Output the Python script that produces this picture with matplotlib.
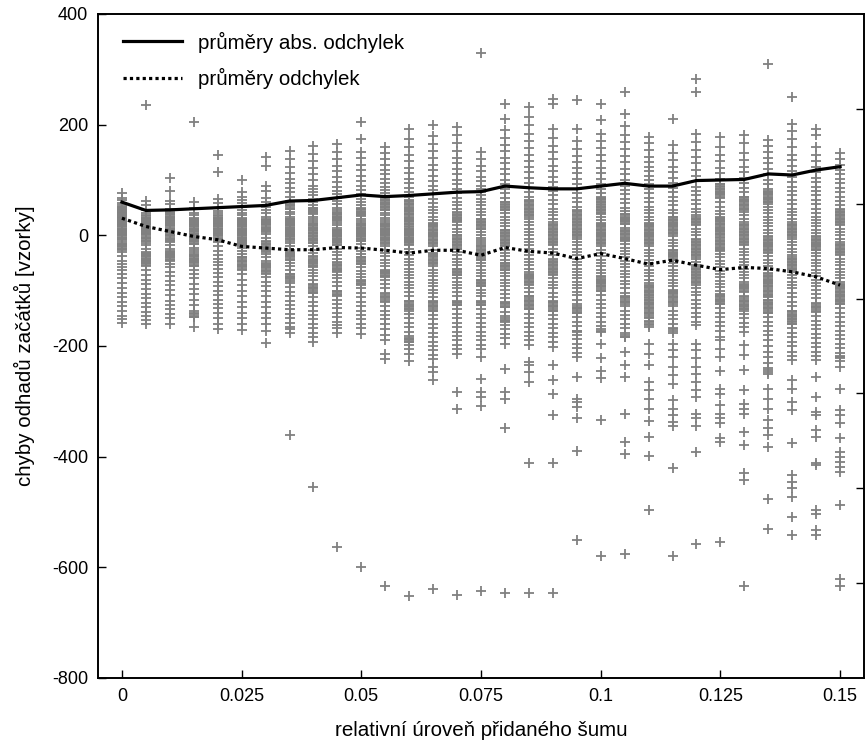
import matplotlib
matplotlib.use("Agg")
import matplotlib.pyplot as plt

plt.rcParams['font.family'] = ['Liberation Sans', 'DejaVu Sans']
plt.rcParams['axes.unicode_minus'] = False

# úrovně šumu (sloupce bodů)
noise = [0.000, 0.005, 0.010, 0.015, 0.020, 0.025, 0.030, 0.035, 0.040, 0.045,
         0.050, 0.055, 0.060, 0.065, 0.070, 0.075, 0.080, 0.085, 0.090, 0.095,
         0.100, 0.105, 0.110, 0.115, 0.120, 0.125, 0.130, 0.135, 0.140, 0.145,
         0.150]

# průměry absolutních odchylek
mean_abs = [60, 45, 46, 48, 50, 52, 54, 62, 63, 68, 73, 70, 72, 75, 78, 79,
            89, 86, 84, 84, 89, 94, 89, 89, 99, 100, 101, 111, 109, 118, 124]

# průměry odchylek
mean_dev = [31, 16, 7, -2, -8, -20, -23, -26, -26, -22, -23, -27, -32, -27,
            -27, -36, -22, -29, -32, -42, -33, -42, -52, -45, -54, -62, -58,
            -60, -66, -75, -90]

# chyby odhadů pro jednotlivé úrovně šumu (rozptýlené body)
err00 = [76, 68, 63, 58, 52, 48, 45, 42, 38, 35, 31, 27, 24, 20, 16, 12, 8, 4, 0,
         -4, -8, -12, -16, -20, -25, -31, -38, -46, -52, -58, -63, -70, -78, -86,
         -95, -104, -112, -120, -128, -137, -145, -152, -158]
err01 = [235, 62, 54, 46, 40, 36, 32, 28, 24, 20, 15, 10, 6, 2, -4, -10, -18, -24,
         -30, -34, -38, -42, -46, -50, -56, -63, -72, -80, -88, -97, -106, -114,
         -122, -130, -138, -146, -153, -160]
err02 = [103, 80, 62, 56, 48, 42, 38, 34, 30, 26, 22, 18, 12, 6, 0, -6, -12, -18,
         -24, -28, -32, -36, -40, -46, -52, -58, -66, -74, -82, -90, -98, -108,
         -118, -126, -134, -142, -150, -160]
err03 = [205, 60, 50, 40, 36, 32, 28, 24, 20, 16, 12, 8, 2, -4, -10, -16, -22, -26,
         -30, -34, -38, -42, -48, -55, -62, -70, -78, -88, -97, -106, -116, -126,
         -136, -140, -143, -147, -166]
err04 = [145, 115, 66, 58, 50, 44, 40, 36, 32, 28, 24, 20, 16, 12, 8, 4, 0, -6,
         -12, -20, -28, -36, -42, -48, -54, -60, -68, -76, -84, -92, -100, -108,
         -116, -124, -132, -140, -150, -160, -169]
err05 = [100, 78, 70, 64, 58, 52, 46, 40, 36, 32, 28, 24, 20, 16, 12, 8, 4, 0, -4,
         -8, -12, -16, -22, -28, -34, -40, -46, -54, -62, -70, -80, -90, -100,
         -110, -120, -130, -140, -150, -160, -171]
err06 = [141, 126, 90, 80, 68, 60, 52, 46, 40, 34, 28, 24, 20, 14, 8, 2, -4, -10,
         -16, -22, -28, -34, -40, -46, -52, -58, -64, -70, -76, -84, -92, -100,
         -110, -120, -130, -140, -150, -160, -172, -195]
err07 = [153, 138, 124, 112, 102, 94, 86, 78, 70, 62, 54, 48, 42, 38, 34, 30, 26,
         22, 18, 14, 10, 6, 2, -2, -6, -10, -14, -20, -26, -32, -38, -44, -50, -56,
         -62, -70, -78, -86, -94, -102, -110, -118, -126, -134, -142, -150, -158,
         -165, -170, -176, -361]
err08 = [162, 147, 134, 122, 110, 100, 90, 84, 78, 72, 66, 60, 54, 50, 46, 42, 38,
         34, 30, 26, 22, 18, 14, 10, 4, -2, -8, -14, -20, -26, -32, -38, -44, -50,
         -56, -62, -68, -74, -80, -88, -96, -104, -112, -120, -128, -136, -144,
         -152, -160, -168, -176, -184, -193, -454]
err09 = [165, 150, 138, 126, 116, 106, 96, 88, 80, 74, 68, 62, 56, 50, 46, 42, 38,
         34, 30, 26, 22, 18, 14, 10, 6, 2, -2, -6, -12, -18, -24, -30, -36, -42,
         -48, -54, -60, -66, -72, -78, -84, -92, -100, -108, -116, -124, -132,
         -140, -148, -156, -162, -168, -176, -563]
err10 = [205, 175, 150, 140, 128, 118, 108, 98, 90, 82, 74, 66, 60, 54, 48, 42, 36,
         30, 26, 22, 18, 14, 10, 6, 2, -2, -6, -10, -16, -22, -28, -34, -40, -46,
         -52, -58, -64, -70, -76, -82, -88, -96, -104, -112, -120, -128, -136,
         -144, -152, -160, -168, -178, -599]
err11 = [160, 148, 138, 128, 118, 110, 102, 94, 88, 82, 76, 70, 64, 58, 52, 46, 40,
         36, 32, 28, 24, 20, 16, 12, 8, 4, 0, -4, -8, -14, -20, -26, -32, -38, -44,
         -50, -56, -62, -68, -74, -80, -88, -96, -104, -112, -120, -128, -136,
         -144, -152, -160, -170, -180, -190, -214, -223, -634]
err12 = [193, 175, 160, 146, 134, 122, 112, 102, 94, 86, 78, 70, 62, 56, 50, 44,
         38, 32, 26, 20, 16, 12, 8, 4, 0, -4, -8, -12, -18, -24, -30, -36, -42,
         -48, -54, -60, -66, -72, -78, -84, -90, -96, -102, -110, -118, -126,
         -134, -142, -150, -158, -166, -174, -182, -188, -192, -198, -206, -214,
         -228, -652]
err13 = [199, 180, 165, 152, 140, 128, 118, 108, 98, 90, 82, 74, 66, 58, 52, 46,
         40, 34, 28, 22, 16, 10, 4, -2, -8, -14, -20, -26, -32, -38, -44, -50,
         -56, -62, -68, -74, -80, -86, -92, -98, -104, -112, -120, -128, -136,
         -144, -152, -160, -168, -176, -184, -192, -200, -208, -216, -224, -238,
         -247, -262, -640]
err14 = [196, 181, 166, 152, 140, 130, 120, 110, 100, 92, 84, 76, 68, 60, 54, 48,
         42, 36, 30, 24, 18, 12, 6, 0, -6, -12, -18, -24, -30, -36, -42, -48, -54,
         -60, -66, -72, -78, -84, -90, -96, -102, -110, -118, -126, -134, -142,
         -150, -158, -166, -174, -182, -190, -198, -206, -214, -283, -313, -650]
err15 = [330, 151, 138, 126, 116, 106, 98, 90, 84, 78, 72, 66, 60, 54, 48, 42, 36,
         30, 24, 18, 12, 6, 0, -4, -8, -12, -16, -20, -26, -32, -38, -44, -50, -56,
         -62, -68, -74, -80, -86, -92, -98, -104, -110, -118, -126, -134, -142,
         -150, -158, -166, -174, -182, -190, -198, -206, -220, -259, -283, -292,
         -309, -643]
err16 = [238, 211, 190, 176, 164, 152, 140, 130, 120, 110, 100, 92, 84, 76, 68, 60,
         52, 46, 40, 34, 28, 22, 16, 10, 4, -2, -8, -14, -20, -26, -32, -38, -44,
         -50, -56, -62, -68, -74, -80, -86, -92, -98, -106, -114, -122, -130, -138,
         -146, -154, -162, -170, -178, -186, -196, -241, -283, -295, -349, -647]
err17 = [232, 214, 200, 184, 170, 158, 146, 134, 124, 114, 104, 94, 86, 78, 70, 62,
         54, 48, 42, 36, 30, 24, 18, 12, 6, 0, -6, -12, -18, -24, -30, -36, -42,
         -48, -54, -60, -66, -72, -78, -84, -90, -96, -102, -110, -118, -126, -134,
         -142, -150, -158, -166, -174, -182, -190, -199, -229, -235, -247, -265,
         -411, -647]
err18 = [247, 238, 193, 176, 162, 150, 138, 126, 116, 106, 96, 88, 80, 72, 64, 56,
         48, 42, 36, 30, 24, 18, 12, 6, 0, -6, -12, -18, -24, -30, -36, -42, -48,
         -54, -60, -66, -72, -78, -84, -90, -96, -104, -112, -120, -128, -136, -144,
         -152, -160, -168, -176, -184, -192, -202, -235, -262, -286, -325, -411,
         -647]
err19 = [245, 193, 170, 156, 144, 132, 122, 112, 102, 92, 84, 76, 68, 60, 52, 44,
         36, 30, 24, 18, 12, 6, 0, -6, -12, -18, -24, -30, -36, -42, -48, -54, -60,
         -66, -72, -78, -84, -90, -96, -102, -108, -116, -124, -132, -140, -148,
         -156, -164, -172, -180, -188, -196, -204, -212, -220, -256, -295, -301,
         -310, -331, -390, -550]
err20 = [238, 208, 184, 170, 158, 146, 134, 122, 112, 102, 92, 84, 76, 68, 60, 52,
         46, 40, 34, 28, 22, 16, 10, 4, -2, -8, -14, -20, -26, -32, -38, -44, -50,
         -56, -62, -68, -74, -80, -86, -92, -100, -108, -116, -124, -132, -140,
         -148, -156, -164, -174, -196, -222, -246, -258, -333, -579]
err21 = [259, 220, 198, 182, 168, 156, 144, 132, 120, 110, 100, 90, 82, 74, 66, 58,
         50, 44, 38, 32, 26, 20, 14, 8, 2, -4, -10, -16, -22, -28, -34, -40, -46,
         -52, -58, -64, -70, -76, -82, -88, -96, -104, -112, -120, -128, -136,
         -144, -152, -160, -168, -176, -183, -210, -234, -256, -322, -373, -395,
         -576]
err22 = [178, 166, 154, 142, 132, 124, 116, 108, 100, 92, 84, 76, 68, 60, 52, 46,
         40, 34, 28, 22, 16, 10, 4, -2, -8, -14, -20, -26, -32, -38, -44, -50, -56,
         -62, -68, -74, -80, -86, -92, -100, -108, -116, -124, -132, -140, -148,
         -156, -162, -196, -214, -235, -265, -280, -295, -313, -335, -364, -399,
         -496]
err23 = [211, 163, 148, 136, 124, 114, 104, 94, 86, 78, 70, 62, 54, 46, 40, 34, 28,
         22, 16, 10, 4, -2, -8, -14, -20, -26, -32, -38, -44, -50, -56, -62, -68,
         -74, -80, -86, -92, -98, -104, -112, -120, -128, -136, -144, -152, -160,
         -168, -176, -196, -208, -220, -238, -252, -268, -298, -313, -325, -337,
         -345, -421, -579]
err24 = [283, 259, 184, 168, 154, 142, 130, 118, 108, 98, 88, 80, 72, 64, 56, 48,
         42, 36, 30, 24, 18, 12, 6, 0, -6, -12, -18, -24, -30, -36, -42, -48, -54,
         -60, -66, -72, -78, -84, -90, -96, -102, -108, -116, -124, -132, -140,
         -148, -156, -162, -196, -208, -222, -238, -250, -265, -280, -292, -322,
         -331, -345, -391, -557]
err25 = [178, 160, 146, 134, 122, 112, 102, 92, 84, 76, 68, 60, 52, 44, 38, 32, 26,
         20, 14, 8, 2, -4, -10, -16, -22, -28, -34, -40, -46, -52, -58, -64, -70,
         -76, -82, -88, -94, -100, -108, -116, -124, -132, -140, -148, -156, -164,
         -172, -184, -190, -205, -220, -246, -277, -286, -307, -322, -331, -340,
         -367, -373, -555]
err26 = [181, 166, 148, 136, 124, 114, 104, 94, 86, 78, 70, 62, 54, 48, 42, 36, 30,
         24, 18, 12, 6, 0, -6, -12, -18, -24, -30, -36, -42, -48, -54, -60, -66,
         -72, -78, -84, -90, -96, -102, -110, -118, -126, -134, -142, -150, -158,
         -166, -174, -199, -216, -244, -280, -304, -313, -322, -355, -379, -430,
         -442, -633]
err27 = [310, 172, 162, 150, 140, 130, 120, 110, 100, 92, 84, 76, 68, 60, 52, 46,
         40, 34, 28, 22, 16, 10, 4, -2, -8, -14, -20, -26, -32, -38, -44, -50, -56,
         -62, -68, -74, -80, -86, -92, -100, -108, -116, -124, -132, -140, -148,
         -156, -164, -172, -180, -190, -200, -210, -220, -230, -240, -250, -277,
         -295, -313, -334, -349, -361, -382, -476, -530]
err28 = [250, 202, 188, 174, 160, 146, 136, 126, 116, 106, 96, 88, 80, 72, 64, 56,
         48, 42, 36, 30, 24, 18, 12, 6, 0, -6, -12, -18, -24, -30, -36, -42, -48,
         -54, -60, -66, -72, -78, -84, -90, -96, -104, -112, -120, -128, -136, -144,
         -152, -160, -168, -176, -184, -192, -200, -210, -218, -226, -262, -277,
         -301, -316, -376, -433, -445, -457, -472, -509, -542]
err29 = [193, 181, 160, 146, 134, 124, 114, 104, 96, 88, 80, 72, 64, 56, 48, 40, 34,
         28, 22, 16, 10, 4, -2, -8, -14, -20, -26, -32, -38, -44, -50, -56, -62,
         -68, -74, -80, -86, -92, -98, -106, -114, -122, -130, -138, -146, -154,
         -162, -170, -178, -186, -194, -202, -210, -218, -226, -256, -292, -319,
         -325, -352, -364, -412, -415, -497, -503, -533, -542]
err30 = [148, 138, 128, 118, 110, 102, 94, 86, 78, 70, 62, 54, 48, 42, 36, 30, 24,
         18, 12, 6, 0, -6, -12, -18, -24, -30, -36, -42, -48, -54, -60, -66, -72,
         -78, -84, -90, -96, -102, -108, -116, -124, -132, -140, -148, -156, -164,
         -172, -180, -188, -196, -204, -212, -220, -228, -238, -277, -316, -325,
         -340, -367, -391, -400, -409, -418, -427, -488, -621, -633]

# husté shluky (opakující se hodnoty, které splývají v plné bloky)
blk00 = [55, 52, 49, 46, 43, 40, 37, 34, 31, 28, 24, 21, 18, 15, 12, 9, 6, 3, 0,
         -3, -6, -15, -18, -21, -24, -27]
blk01 = [35, 32, 29, 26, 23, 20, 17, 14, 11, 8, 5, 2, -1, -4, -7, -10, -13, -32,
         -35, -38, -41, -44, -47, -50, -53]
blk02 = [40, 37, 34, 31, 28, 25, 22, 19, 16, 13, 10, 7, 4, 1, -2, -5, -8, -11,
         -30, -33, -36, -39, -42, -45]
blk03 = [30, 27, 24, 21, 18, 15, 12, 9, 6, 3, 0, -3, -6, -9, -12, -15, -35, -38,
         -41, -44, -47, -50, -53, -56, -146, -148]
blk04 = [35, 32, 29, 26, 23, 20, 17, 14, 11, 8, 5, 2, -1, -4, -7, -10]
blk05 = [30, 27, 24, 21, 18, 15, 12, 9, 6, 3, -2, -5, -8, -11, -14, -17, -20,
         -40, -43, -46, -49, -52, -55, -58, -61]
blk06 = [30, 27, 24, 21, 18, 15, 12, 9, 6, -12, -15, -18, -21, -24, -27, -30,
         -50, -53, -56, -59, -62, -65, -68]
blk07 = [60, 57, 54, 51, 48, 30, 27, 24, 21, 18, 15, 12, 9, 6, 3, 0, -3, -6, -30,
         -33, -36, -39, -42, -45, -70, -73, -76, -79, -82]
blk08 = [50, 47, 44, 41, 20, 17, 14, 11, 8, 5, 2, -1, -4, -7, -10, -13, -40, -43,
         -46, -49, -52, -55, -58, -90, -93, -96, -99, -102, -105]
blk09 = [40, 37, 34, 31, 28, 10, 7, 4, 1, -2, -5, -8, -11, -14, -17, -50, -53,
         -56, -59, -62, -65, -100, -103, -106, -109]
blk10 = [50, 47, 44, 41, 38, 35, 20, 17, 14, 11, 8, 5, 2, -1, -4, -7, -10, -40,
         -43, -46, -49, -52, -80, -83, -86, -89]
blk11 = [69, 66, 63, 60, 57, 54, 51, 48, 45, 21, 18, 15, 12, 9, 6, 3, 0, -3, -6,
         -9, -12, -15, -64, -67, -70, -73, -76, -106, -109, -112, -115, -118]
blk12 = [63, 60, 57, 54, 51, 48, 45, 42, 39, 36, 33, 30, 27, 24, 21, 15, 12, 9, 6,
         3, 0, -3, -6, -9, -12, -15, -118, -121, -124, -127, -130, -133, -136,
         -186, -189, -192]
blk13 = [21, 18, 15, 12, 9, 6, 3, 0, -3, -6, -9, -12, -15, -33, -36, -39, -42,
         -45, -48, -51, -118, -121, -124, -127, -130, -133, -136]
blk14 = [40, 37, 34, 31, 28, 25, 0, -3, -6, -9, -12, -15, -18, -21, -24, -60,
         -63, -66, -69, -72, -120, -123, -126]
blk15 = [30, 27, 24, 21, 18, 15, 12, -20, -23, -26, -29, -32, -35, -38, -41, -44,
         -80, -83, -86, -89, -92, -120, -123, -126]
blk16 = [60, 57, 54, 51, 48, 45, 10, 7, 4, 1, -2, -5, -8, -11, -14, -17, -50, -53,
         -56, -59, -62, -120, -123, -126, -129, -150, -153, -156]
blk17 = [63, 60, 57, 54, 51, 48, 45, 42, 39, 36, 33, -70, -73, -76, -79, -82, -85,
         -88, -110, -113, -116, -119, -122, -125, -128, -131, -134]
blk18 = [21, 18, 15, 12, 9, 6, 3, 0, -3, -6, -9, -12, -15, -45, -48, -51, -54,
         -57, -60, -63, -66, -69, -118, -121, -124, -127, -130, -133, -136]
blk19 = [45, 42, 39, 36, 33, 30, 27, 24, 21, 18, 15, 12, 9, 6, 3, 0, -3, -128,
         -131, -134, -137, -140, -172, -175]
blk20 = [69, 66, 63, 60, 57, 54, 51, 48, 45, 42, 39, 21, 18, 15, 12, 9, 6, 3, 0,
         -3, -6, -9, -12, -15, -76, -79, -82, -85, -88, -91, -94, -97, -100, -170,
         -173]
blk21 = [39, 36, 33, 30, 27, 24, 21, 9, 6, 3, 0, -3, -6, -9, -109, -112, -115,
         -118, -121, -124, -180, -183]
blk22 = [21, 18, 15, 12, 9, 6, 3, 0, -3, -6, -9, -12, -15, -90, -93, -96, -99,
         -102, -105, -108, -111, -114, -117, -120, -123, -126, -129, -132, -135,
         -138, -141, -144, -150, -155, -160, -165]
blk23 = [33, 30, 27, 24, 21, 18, 15, 12, 9, 6, 3, -27, -30, -33, -36, -39, -42,
         -45, -100, -103, -106, -109, -112, -115, -118, -121, -124, -170, -172]
blk24 = [33, 30, 27, 24, 21, -9, -12, -15, -18, -21, -24, -27, -30, -33, -36, -39,
         -57, -60, -63, -66, -69, -72, -75, -78, -81, -84, -87]
blk25 = [93, 90, 87, 84, 81, 78, 75, 72, 69, 33, 30, 27, 24, 21, 18, 15, 12, 9, 6,
         3, 0, -3, -9, -12, -15, -18, -21, -24, -27, -106, -109, -112, -115, -118,
         -121, -124]
blk26 = [69, 66, 63, 60, 57, 54, 51, 48, 45, 21, 18, 15, 12, 9, 6, 3, 0, -3, -6,
         -9, -12, -15, -88, -91, -94, -97, -100, -112, -115, -118, -121, -124,
         -127, -130, -133, -136]
blk27 = [81, 78, 75, 72, 69, 66, 63, 60, 57, -3, -6, -9, -12, -15, -18, -21, -24,
         -27, -30, -70, -73, -76, -79, -82, -85, -88, -91, -94, -97, -100, -103,
         -106, -109, -112, -117, -120, -123, -126, -129, -132, -135, -138, -141,
         -244, -247]
blk28 = [21, 18, 15, 12, 9, 6, 3, 0, -3, -39, -42, -45, -48, -51, -54, -57, -60,
         -63, -136, -139, -142, -145, -148, -151, -154, -157, -160]
blk29 = [-3, -6, -9, -12, -15, -18, -21, -24, -27, -124, -127, -130, -133, -136]
blk30 = [45, 42, 39, 36, 33, 30, 27, 24, 21, -15, -18, -21, -24, -27, -30, -33,
         -88, -91, -94, -97, -100, -103, -106, -109, -112, -115, -118, -121, -124,
         -218, -221]

errors = [err00, err01, err02, err03, err04, err05, err06, err07, err08, err09,
          err10, err11, err12, err13, err14, err15, err16, err17, err18, err19,
          err20, err21, err22, err23, err24, err25, err26, err27, err28, err29,
          err30]
blocks = [blk00, blk01, blk02, blk03, blk04, blk05, blk06, blk07, blk08, blk09,
          blk10, blk11, blk12, blk13, blk14, blk15, blk16, blk17, blk18, blk19,
          blk20, blk21, blk22, blk23, blk24, blk25, blk26, blk27, blk28, blk29,
          blk30]

xticks = [0, 0.025, 0.05, 0.075, 0.1, 0.125, 0.15]
xticklabels = ['0', '0.025', '0.05', '0.075', '0.1', '0.125', '0.15']
yticks = [-800, -600, -400, -200, 0, 200, 400]

fig = plt.figure(figsize=(8.68, 7.46), dpi=100)
ax = fig.add_axes([98 / 868, 1 - 678 / 746, 766 / 868, 664 / 746])

# body
for x, col, blk in zip(noise, errors, blocks):
    vals = col + blk
    ax.plot([x] * len(vals), vals, linestyle='none', marker='+', markersize=7.5,
            markeredgewidth=1.3, color='#808080', zorder=1)

ax.plot(noise, mean_abs, color='black', linewidth=2.3, label='průměry abs. odchylek', zorder=3)
ax.plot(noise, mean_dev, color='black', linewidth=2.3, linestyle=(0, (1, 1)),
        label='průměry odchylek', zorder=3)

ax.set_xlim(-0.005, 0.155)
ax.set_ylim(-800, 400)
ax.set_xticks(xticks)
ax.set_xticklabels(xticklabels)
ax.set_yticks(yticks)
ax.tick_params(direction='in', length=6, width=1, labelsize=13, pad=7,
               top=False, right=False)
for s in ax.spines.values():
    s.set_linewidth(1.2)

ax.set_xlabel('relativní úroveň přidaného šumu', fontsize=14.8, labelpad=12)
ax.set_ylabel('chyby odhadů začátků [vzorky]', fontsize=14.8, labelpad=12)

leg = ax.legend(loc='upper left', bbox_to_anchor=(4 / 766, 1 + 3 / 664), frameon=False,
                fontsize=14.8, handlelength=2.9, handletextpad=0.75,
                labelspacing=0.75, borderaxespad=0.6)

# pravá osa s vlastním dělením
ax2 = ax.twinx()
ax2.set_ylim(0, 7)
ax2.set_yticks([1, 2, 3, 4, 5, 6])
ax2.set_yticklabels([])
ax2.tick_params(direction='in', length=6, width=1)
for s in ax2.spines.values():
    s.set_linewidth(1.2)

fig.savefig('out.png', dpi=100)
